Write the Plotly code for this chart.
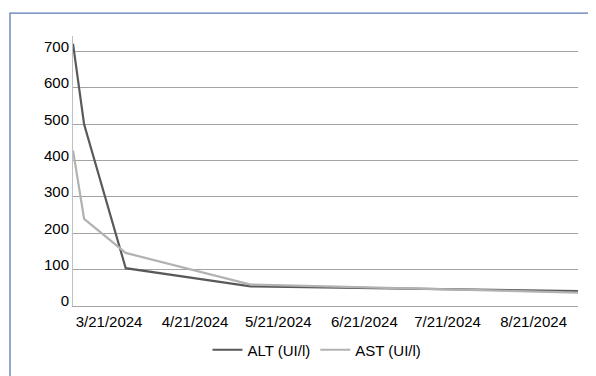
import plotly.graph_objects as go

dates = ["2024-03-08", "2024-03-12", "2024-03-27", "2024-05-11", "2024-09-06"]
alt = [722, 500, 104, 54, 41]
ast = [428, 240, 146, 59, 37]
x_ticks = ["2024-03-21", "2024-04-21", "2024-05-21", "2024-06-21", "2024-07-21", "2024-08-21"]
x_tick_text = ["3/21/2024", "4/21/2024", "5/21/2024", "6/21/2024", "7/21/2024", "8/21/2024"]
y_ticks = [0, 100, 200, 300, 400, 500, 600, 700]

FONT = "Liberation Sans, Arial, sans-serif"
OFF = 8  # page body margin
W, H = 596 - OFF, 376 - OFF
L, T = 73 - OFF, 36 - OFF
R = W - (578 - OFF)
B = H - (306.5 - OFF)
pw = W - L - R
ph = H - T - B
ymax = 743
label_shift = 5 * ymax / ph  # shift y labels up ~5px

fig = go.Figure()
fig.add_trace(go.Scatter(x=dates, y=alt, mode="lines", name="ALT (UI/l)",
                         line=dict(color="#595959", width=2.2)))
fig.add_trace(go.Scatter(x=dates, y=ast, mode="lines", name="AST (UI/l)",
                         line=dict(color="#b2b2b2", width=2.2)))
# invisible trace for label axis
fig.add_trace(go.Scatter(x=[dates[0]], y=[0], yaxis="y2", mode="markers",
                         marker=dict(opacity=0), showlegend=False, hoverinfo="skip"))

fig.update_layout(
    width=W, height=H,
    margin=dict(l=L, r=R, t=T, b=B),
    paper_bgcolor="white", plot_bgcolor="white",
    font=dict(family=FONT, size=15, color="#000000"),
    showlegend=True,
    legend=dict(orientation="h", x=(317 - OFF - L) / pw, xanchor="center",
                yref="container", y=1 - (350 - OFF) / H, yanchor="middle",
                font=dict(family=FONT, size=15, color="#000000"),
                bgcolor="rgba(0,0,0,0)", traceorder="normal"),
    xaxis=dict(type="date", range=["2024-03-08", "2024-09-06"],
               tickvals=x_ticks, ticktext=x_tick_text,
               showgrid=False, zeroline=False, automargin=False,
               showline=True, linecolor="#a6a6a6", linewidth=1,
               ticks="", ticklabelstandoff=2,
               tickfont=dict(family=FONT, size=15, color="#000000")),
    yaxis=dict(range=[0, ymax], tickvals=y_ticks, showticklabels=False,
               showgrid=True, gridcolor="#a3a3a3", gridwidth=1, automargin=False,
               zeroline=False, showline=True, linecolor="#c0c0c0", linewidth=1,
               ticks=""),
    yaxis2=dict(overlaying="y", side="left", range=[-label_shift, ymax - label_shift],
                tickvals=y_ticks, showgrid=False, zeroline=False, showline=False,
                ticks="", ticklabelstandoff=3, automargin=False,
                tickfont=dict(family=FONT, size=15, color="#000000")),
    shapes=[dict(type="rect", xref="paper", yref="paper",
                 x0=(10 - 73) / pw, x1=(W + 10 - L) / pw,
                 y0=-(H + 10 - (T + ph)) / ph, y1=(306.5 - 13) / ph,
                 line=dict(color="#5b78b4", width=1.3), fillcolor="rgba(0,0,0,0)",
                 layer="below")],
)

fig.write_html("out.html")
